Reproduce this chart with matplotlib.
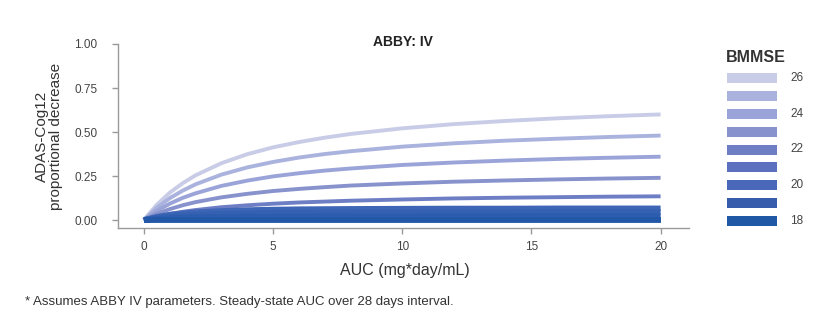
import matplotlib
matplotlib.use("Agg")
import matplotlib.pyplot as plt
from matplotlib.patches import Rectangle

plt.rcParams['font.family'] = ['Liberation Sans', 'DejaVu Sans']

# ---- data ----
auc = [0, 0.5, 1, 1.5, 2, 3, 4, 5, 6, 7, 8, 10, 12, 14, 16, 18, 20]
bmmse = [26, 25, 24, 23, 22, 21, 20, 19, 18]
curves = {
    26: [0, .087, .155, .209, .254, .323, .374, .413, .443, .468, .489, .521, .545, .563, .578, .590, .600],
    25: [0, .070, .124, .167, .203, .258, .299, .330, .355, .375, .391, .417, .436, .451, .462, .472, .480],
    24: [0, .052, .093, .126, .152, .194, .224, .248, .266, .281, .293, .313, .327, .338, .347, .354, .360],
    23: [0, .035, .062, .084, .102, .129, .149, .165, .177, .187, .196, .208, .218, .225, .231, .236, .240],
    22: [0, .020, .035, .047, .057, .073, .084, .093, .100, .105, .110, .117, .123, .127, .130, .133, .135],
    21: [0, .018, .030, .038, .044, .051, .056, .059, .061, .062, .063, .064, .065, .065, .066, .066, .066],
    20: [0, .012, .020, .026, .030, .035, .038, .040, .041, .042, .043, .043, .044, .044, .045, .045, .045],
    19: [0, .006, .010, .013, .015, .017, .019, .020, .020, .021, .021, .021, .022, .022, .022, .022, .022],
    18: [0, 0, 0, 0, 0, 0, 0, 0, 0, 0, 0, 0, 0, 0, 0, 0, 0],
}
colors = {
    26: '#c9cce6', 25: '#aab2de', 24: '#9ba4d8', 23: '#8892cc', 22: '#6e7ec4',
    21: '#3f66b6', 20: '#3561b2', 19: '#2c5cad', 18: '#2358a8',
}
legend_colors = {
    26: '#c9cce6', 25: '#aab2de', 24: '#9ba4d8', 23: '#8892cc', 22: '#6e7ec4',
    21: '#5b70be', 20: '#4a68ba', 19: '#365cab', 18: '#2158a6',
}
legend_labels = ['26', '', '24', '', '22', '', '20', '', '18']
xticks = [0, 5, 10, 15, 20]
yticks = [0.0, 0.25, 0.5, 0.75, 1.0]
ytick_labels = ['0.00', '0.25', '0.50', '0.75', '1.00']

W, H = 817, 318
fig = plt.figure(figsize=(W / 100, H / 100), dpi=100)
ax = fig.add_axes([118 / W, 1 - 228 / H, 571 / W, 184 / H])

for b in bmmse:
    lw = 2.8 if b >= 22 else 4.2
    ax.plot(auc, curves[b], color=colors[b], lw=lw, solid_capstyle='butt', zorder=3)

ax.set_xlim(-1, 21.1)
ax.set_ylim(-0.045, 1.0)
ax.set_xticks(xticks)
ax.set_xticklabels([str(t) for t in xticks])
ax.set_yticks(yticks)
ax.set_yticklabels(ytick_labels)
for s in ['top', 'right']:
    ax.spines[s].set_visible(False)
for s in ['left', 'bottom']:
    ax.spines[s].set_color('#9a9a9a')
    ax.spines[s].set_linewidth(1.0)
ax.tick_params(axis='both', colors='#9a9a9a', length=4, width=1, labelsize=8.5, labelcolor='#444444')
ax.tick_params(axis='y', pad=11)
ax.tick_params(axis='x', pad=5)

ax.set_ylabel('ADAS-Cog12\nproportional decrease', fontsize=11, color='#333333', labelpad=8, linespacing=1.0)
fig.text(405 / W, 1 - 270 / H, 'AUC (mg*day/mL)', ha='center', va='center', fontsize=11.5, color='#333333')
fig.text(403 / W, 1 - 42 / H, 'ABBY: IV', ha='center', va='center', fontsize=10, fontweight='bold', color='#222222')
fig.text(25 / W, 1 - 302 / H, '* Assumes ABBY IV parameters. Steady-state AUC over 28 days interval.',
         ha='left', va='center', fontsize=9.5, color='#333333')

# legend
lax = fig.add_axes([0, 0, 1, 1])
lax.set_xlim(0, W)
lax.set_ylim(H, 0)
lax.axis('off')
lax.text(726, 57, 'BMMSE', ha='left', va='center', fontsize=11.5, fontweight='bold', color='#333333')
y0, dy = 78.3, 17.8
for i, b in enumerate(bmmse):
    yc = y0 + i * dy
    lax.add_patch(Rectangle((727, yc - 5), 50, 10, facecolor=legend_colors[b], edgecolor='none'))
    if legend_labels[i]:
        lax.text(790, yc, legend_labels[i], ha='left', va='center', fontsize=8.5, color='#444444')

fig.savefig('out.png', dpi=100)
